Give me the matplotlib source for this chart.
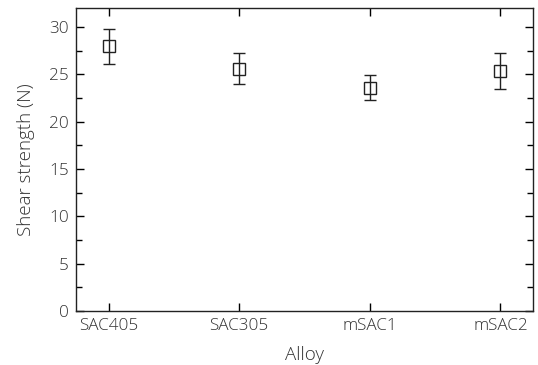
import matplotlib.pyplot as plt
from matplotlib.ticker import MultipleLocator

plt.rcParams['font.family'] = ['Open Sans', 'DejaVu Sans']

alloys = ["SAC405", "SAC305", "mSAC1", "mSAC2"]
strength = [28.0, 25.6, 23.6, 25.3]
err_low = [1.9, 1.6, 1.3, 1.9]
err_high = [1.8, 1.7, 1.3, 1.9]

fig, ax = plt.subplots(figsize=(5.38, 3.65), dpi=100)
fig.subplots_adjust(left=0.141, right=0.991, top=0.978, bottom=0.148)

x = list(range(len(alloys)))
ax.errorbar(x, strength, yerr=[err_low, err_high], fmt="s", mfc="none",
            mec="#222222", ms=8.5, mew=1.0, ecolor="#222222", elinewidth=1.0,
            capsize=4, capthick=1.0)

ax.set_xticks(x)
ax.set_xticklabels(alloys, fontsize=12.3, fontweight="light", color="#333333")
ax.set_xlim(-0.25, 3.25)
ax.set_ylim(0, 32)
ax.yaxis.set_major_locator(MultipleLocator(5))
ax.yaxis.set_minor_locator(MultipleLocator(2.5))
for lab in ax.get_yticklabels():
    lab.set_fontsize(12.3)
    lab.set_fontweight("light")
    lab.set_color("#333333")

ax.tick_params(which="both", direction="in", top=True, right=True, width=1.0)
ax.tick_params(which="major", length=6, pad=5)
ax.tick_params(which="minor", length=4)
ax.tick_params(axis="x", which="minor", top=False, bottom=False)

ax.set_xlabel("Alloy", fontsize=13.5, fontweight="light", color="#333333", labelpad=9)
ax.set_ylabel("Shear strength (N)", fontsize=13.5, fontweight="light", color="#333333", labelpad=10)
for s in ax.spines.values():
    s.set_linewidth(1.0)
    s.set_color("#222222")

plt.savefig("out.png")
